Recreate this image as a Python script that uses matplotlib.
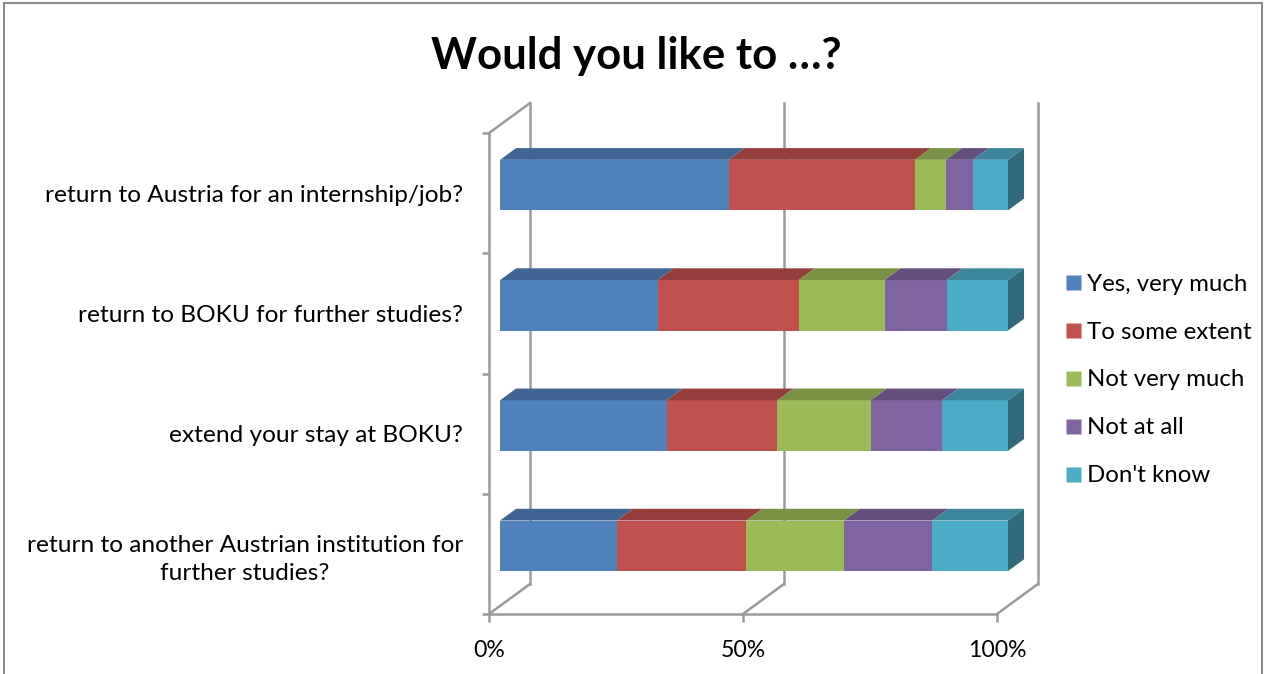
import matplotlib
matplotlib.use("Agg")
import matplotlib.pyplot as plt
import numpy as np
from matplotlib.lines import Line2D
from matplotlib.patches import Polygon, Rectangle

plt.rcParams["font.family"] = ["Lato", "DejaVu Sans"]

# survey questions, top to bottom as shown
CATEGORIES = [
    "return to Austria for an internship/job?",
    "return to BOKU for further studies?",
    "extend your stay at BOKU?",
    "return to another Austrian institution for\nfurther studies?",
]
SERIES = ["Yes, very much", "To some extent", "Not very much", "Not at all", "Don't know"]

# percentages
YES_VERY_MUCH = [45.0, 31.0, 32.8, 23.0]
TO_SOME_EXTENT = [36.7, 27.8, 21.8, 25.5]
NOT_VERY_MUCH = [6.1, 16.9, 18.4, 19.2]
NOT_AT_ALL = [5.3, 12.2, 14.0, 17.4]
DONT_KNOW = [6.9, 12.1, 13.0, 14.9]

COLORS = ["#4F81BD", "#C0504D", "#9BBB59", "#8064A2", "#4BACC6"]
GRID = "#9a9a9a"

# fake-3D geometry: depth offset of the back wall, in data units
DX, DY = 8.09, 0.25
D_FRONT, D_BACK = 0.27, 0.66
BAR_H = 0.42

W, H = 1268, 674


def shade(c, f):
    rgb = np.array(matplotlib.colors.to_rgb(c))
    return tuple(rgb * f)


fig = plt.figure(figsize=(W / 100, H / 100), dpi=100)
ax = fig.add_axes([489 / W, 60 / H, 549 / W, 511 / H])
ax.set_xlim(0, 100 + DX)
ax.set_ylim(0, 4 + DY)

# walls / floor
for p in (0, 50, 100):
    ax.plot([p + DX, p + DX], [DY, 4 + DY], color=GRID, lw=1.8, clip_on=False, zorder=1)
    ax.plot([p, p + DX], [0, DY], color=GRID, lw=1.8, clip_on=False, zorder=1)
ax.plot([0, DX], [4, 4 + DY], color=GRID, lw=1.8, clip_on=False, zorder=1)

for s in ("top", "right"):
    ax.spines[s].set_visible(False)
ax.spines["left"].set_bounds(0, 4)
ax.spines["bottom"].set_bounds(0, 100)
for s in ("left", "bottom"):
    ax.spines[s].set_color(GRID)
    ax.spines[s].set_linewidth(1.8)

# bars
values = np.array([YES_VERY_MUCH, TO_SOME_EXTENT, NOT_VERY_MUCH, NOT_AT_ALL, DONT_KNOW])
n = len(CATEGORIES)
ypos = np.arange(n)[::-1] + 0.5
lefts = np.zeros(n)
for k, (vals, col) in enumerate(zip(values, COLORS)):
    ax.barh(ypos + D_FRONT * DY, vals, left=lefts + D_FRONT * DX, height=BAR_H,
            color=col, edgecolor="none", zorder=3)
    for y, l, v in zip(ypos, lefts, vals):
        yt = y + BAR_H / 2
        top = Polygon([(l + D_FRONT * DX, yt + D_FRONT * DY),
                       (l + v + D_FRONT * DX, yt + D_FRONT * DY),
                       (l + v + D_BACK * DX, yt + D_BACK * DY),
                       (l + D_BACK * DX, yt + D_BACK * DY)],
                      closed=True, facecolor=shade(col, 0.78), edgecolor="none", zorder=3)
        ax.add_patch(top)
        if k == len(values) - 1:
            r = l + v
            yb = y - BAR_H / 2
            side = Polygon([(r + D_FRONT * DX, yb + D_FRONT * DY),
                            (r + D_BACK * DX, yb + D_BACK * DY),
                            (r + D_BACK * DX, yt + D_BACK * DY),
                            (r + D_FRONT * DX, yt + D_FRONT * DY)],
                           closed=True, facecolor=shade(col, 0.62), edgecolor="none",
                           zorder=3, clip_on=False)
            ax.add_patch(side)
    lefts = lefts + vals

# ticks
ax.set_xticks([0, 50, 100], ["0%", "50%", "100%"])
ax.tick_params(axis="x", length=5.8, width=1.8, color=GRID, pad=13, labelsize=16.6)
ax.set_yticks(np.arange(0, 5))
ax.set_yticklabels([])
ax.tick_params(axis="y", which="major", length=5, width=1.8, color=GRID)
ax.set_yticks(ypos, CATEGORIES, minor=True)
ax.tick_params(axis="y", which="minor", length=0, pad=18.7, labelsize=17.6)
for lab in ax.get_yticklabels(minor=True):
    lab.set_multialignment("center")
    lab.set_linespacing(1.4)

# legend
handles = [Line2D([], [], marker="s", linestyle="none", markersize=10.8,
                  markerfacecolor=c, markeredgecolor="none", label=s)
           for c, s in zip(COLORS, SERIES)]
fig.legend(handles=handles, loc="center left", bbox_to_anchor=(1056 / W, 1 - 380 / H),
           frameon=False, fontsize=17.3, handlelength=0.62, handletextpad=0.26,
           labelspacing=1.12, borderaxespad=0)

fig.text(636 / W, 1 - 56 / H, "Would you like to …?", ha="center", va="center",
         fontsize=31.5, fontweight="bold")

fig.add_artist(Rectangle((4 / W, -0.05), 1258 / W, 1.05 - 3 / H, transform=fig.transFigure,
                         fill=False, edgecolor="#8c8c8c", lw=1.5))

fig.savefig("out.png", dpi=100)
